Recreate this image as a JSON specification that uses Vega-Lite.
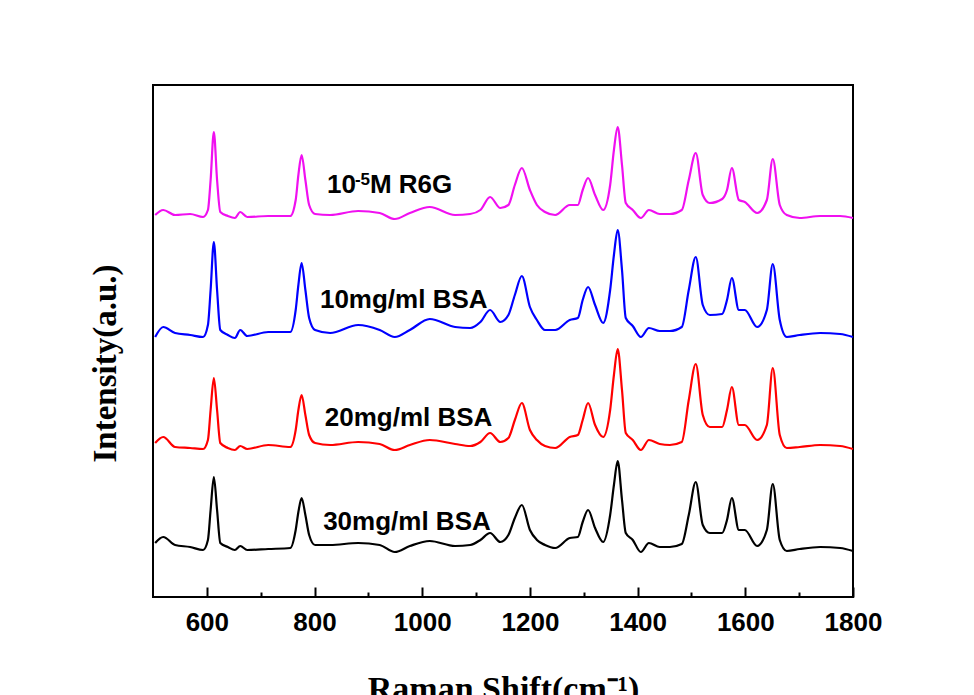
{
"$schema": "https://vega.github.io/schema/vega-lite/v6.json",
"width": 700, "height": 512,
"autosize": {"type": "none"},
"padding": {"left": 153, "top": 85, "right": 121, "bottom": 98},
"background": "white",
"config": {"view": {"stroke": "black", "strokeWidth": 2}},
"datasets": {
"m": [{"x":504,"y":382},{"x":519,"y":387},{"x":541,"y":382},{"x":569,"y":383},{"x":593,"y":380},{"x":602,"y":387},{"x":607,"y":417},{"x":613,"y":465},{"x":619,"y":417},{"x":625,"y":385},{"x":639,"y":381},{"x":652,"y":379},{"x":662,"y":385},{"x":675,"y":380},{"x":714,"y":381},{"x":755,"y":381},{"x":765,"y":397},{"x":770,"y":422},{"x":776,"y":442},{"x":783,"y":417},{"x":790,"y":392},{"x":801,"y":383},{"x":829,"y":382},{"x":881,"y":386},{"x":921,"y":384},{"x":949,"y":378},{"x":977,"y":384},{"x":1014,"y":390},{"x":1061,"y":382},{"x":1089,"y":383},{"x":1108,"y":387},{"x":1126,"y":400},{"x":1145,"y":389},{"x":1160,"y":392},{"x":1172,"y":412},{"x":1185,"y":429},{"x":1200,"y":407},{"x":1213,"y":392},{"x":1228,"y":385},{"x":1247,"y":382},{"x":1274,"y":392},{"x":1289,"y":392},{"x":1298,"y":407},{"x":1308,"y":419},{"x":1321,"y":402},{"x":1336,"y":387},{"x":1349,"y":412},{"x":1356,"y":447},{"x":1363,"y":470},{"x":1371,"y":432},{"x":1378,"y":394},{"x":1391,"y":387},{"x":1406,"y":379},{"x":1421,"y":387},{"x":1441,"y":383},{"x":1460,"y":383},{"x":1482,"y":387},{"x":1495,"y":417},{"x":1508,"y":444},{"x":1521,"y":402},{"x":1534,"y":394},{"x":1557,"y":398},{"x":1566,"y":407},{"x":1575,"y":429},{"x":1588,"y":397},{"x":1599,"y":395},{"x":1622,"y":384},{"x":1640,"y":397},{"x":1651,"y":438},{"x":1664,"y":392},{"x":1677,"y":382},{"x":1701,"y":379},{"x":1739,"y":381},{"x":1776,"y":381},{"x":1800,"y":379}],
"b": [{"x":504,"y":260},{"x":519,"y":270},{"x":541,"y":264},{"x":569,"y":262},{"x":593,"y":260},{"x":602,"y":272},{"x":607,"y":307},{"x":613,"y":355},{"x":619,"y":307},{"x":625,"y":267},{"x":639,"y":262},{"x":652,"y":259},{"x":662,"y":267},{"x":675,"y":261},{"x":714,"y":265},{"x":755,"y":265},{"x":765,"y":287},{"x":770,"y":312},{"x":776,"y":334},{"x":783,"y":307},{"x":790,"y":279},{"x":801,"y":267},{"x":829,"y":264},{"x":881,"y":272},{"x":921,"y":267},{"x":949,"y":260},{"x":977,"y":267},{"x":1014,"y":278},{"x":1061,"y":270},{"x":1089,"y":269},{"x":1108,"y":275},{"x":1126,"y":287},{"x":1145,"y":275},{"x":1160,"y":282},{"x":1172,"y":302},{"x":1185,"y":321},{"x":1200,"y":290},{"x":1213,"y":277},{"x":1228,"y":267},{"x":1247,"y":267},{"x":1274,"y":277},{"x":1289,"y":279},{"x":1298,"y":297},{"x":1308,"y":310},{"x":1321,"y":292},{"x":1336,"y":274},{"x":1349,"y":307},{"x":1356,"y":342},{"x":1363,"y":367},{"x":1371,"y":327},{"x":1378,"y":279},{"x":1391,"y":271},{"x":1406,"y":260},{"x":1421,"y":269},{"x":1441,"y":266},{"x":1460,"y":266},{"x":1482,"y":270},{"x":1495,"y":307},{"x":1508,"y":340},{"x":1521,"y":292},{"x":1534,"y":282},{"x":1557,"y":283},{"x":1566,"y":297},{"x":1575,"y":319},{"x":1588,"y":287},{"x":1599,"y":287},{"x":1622,"y":270},{"x":1640,"y":287},{"x":1651,"y":333},{"x":1664,"y":277},{"x":1677,"y":260},{"x":1701,"y":262},{"x":1739,"y":264},{"x":1776,"y":263},{"x":1800,"y":260}],
"r": [{"x":504,"y":154},{"x":519,"y":160},{"x":541,"y":150},{"x":569,"y":149},{"x":593,"y":148},{"x":602,"y":157},{"x":607,"y":187},{"x":613,"y":219},{"x":619,"y":187},{"x":625,"y":154},{"x":639,"y":149},{"x":652,"y":147},{"x":662,"y":151},{"x":675,"y":148},{"x":714,"y":152},{"x":755,"y":150},{"x":765,"y":167},{"x":770,"y":187},{"x":776,"y":202},{"x":783,"y":182},{"x":790,"y":162},{"x":801,"y":154},{"x":829,"y":152},{"x":881,"y":155},{"x":921,"y":153},{"x":949,"y":147},{"x":977,"y":152},{"x":1014,"y":157},{"x":1061,"y":153},{"x":1089,"y":151},{"x":1108,"y":155},{"x":1126,"y":164},{"x":1145,"y":155},{"x":1160,"y":159},{"x":1172,"y":177},{"x":1185,"y":194},{"x":1200,"y":167},{"x":1213,"y":157},{"x":1228,"y":151},{"x":1247,"y":149},{"x":1274,"y":160},{"x":1289,"y":162},{"x":1298,"y":177},{"x":1308,"y":194},{"x":1321,"y":172},{"x":1336,"y":160},{"x":1349,"y":187},{"x":1356,"y":222},{"x":1363,"y":248},{"x":1371,"y":207},{"x":1378,"y":164},{"x":1391,"y":157},{"x":1406,"y":147},{"x":1421,"y":157},{"x":1441,"y":153},{"x":1460,"y":152},{"x":1482,"y":155},{"x":1495,"y":197},{"x":1508,"y":233},{"x":1521,"y":182},{"x":1534,"y":170},{"x":1557,"y":170},{"x":1566,"y":187},{"x":1575,"y":210},{"x":1588,"y":172},{"x":1599,"y":172},{"x":1622,"y":157},{"x":1640,"y":172},{"x":1651,"y":229},{"x":1664,"y":162},{"x":1677,"y":149},{"x":1701,"y":150},{"x":1739,"y":152},{"x":1776,"y":151},{"x":1800,"y":148}],
"k": [{"x":504,"y":54},{"x":519,"y":60},{"x":541,"y":52},{"x":569,"y":50},{"x":593,"y":47},{"x":602,"y":57},{"x":607,"y":87},{"x":613,"y":120},{"x":619,"y":87},{"x":625,"y":54},{"x":639,"y":50},{"x":652,"y":47},{"x":662,"y":51},{"x":675,"y":47},{"x":714,"y":48},{"x":755,"y":49},{"x":765,"y":67},{"x":770,"y":85},{"x":776,"y":99},{"x":783,"y":82},{"x":790,"y":62},{"x":801,"y":52},{"x":829,"y":52},{"x":881,"y":54},{"x":921,"y":52},{"x":949,"y":45},{"x":977,"y":51},{"x":1014,"y":56},{"x":1061,"y":51},{"x":1089,"y":52},{"x":1108,"y":57},{"x":1126,"y":64},{"x":1145,"y":55},{"x":1160,"y":62},{"x":1172,"y":79},{"x":1185,"y":92},{"x":1200,"y":67},{"x":1213,"y":57},{"x":1228,"y":52},{"x":1247,"y":49},{"x":1274,"y":59},{"x":1289,"y":60},{"x":1298,"y":75},{"x":1308,"y":87},{"x":1321,"y":69},{"x":1336,"y":55},{"x":1349,"y":82},{"x":1356,"y":112},{"x":1363,"y":136},{"x":1371,"y":97},{"x":1378,"y":64},{"x":1391,"y":57},{"x":1406,"y":45},{"x":1421,"y":54},{"x":1441,"y":50},{"x":1460,"y":50},{"x":1482,"y":53},{"x":1495,"y":82},{"x":1508,"y":115},{"x":1521,"y":72},{"x":1534,"y":64},{"x":1557,"y":64},{"x":1566,"y":77},{"x":1575,"y":99},{"x":1588,"y":67},{"x":1599,"y":67},{"x":1622,"y":51},{"x":1640,"y":67},{"x":1651,"y":113},{"x":1664,"y":57},{"x":1677,"y":46},{"x":1701,"y":48},{"x":1739,"y":50},{"x":1776,"y":49},{"x":1800,"y":46}],
"labels": [{"x":810,"y":289,"t":"10mg/ml BSA"},{"x":819,"y":171,"t":"20mg/ml BSA"},{"x":816,"y":67,"t":"30mg/ml BSA"}],
"r6g": [{"x":823,"y":404,"a":"10","e":"-5","c":"M R6G"}]
},
"encoding": {
  "x": {"field": "x", "type": "quantitative",
    "scale": {"domain": [500, 1800], "nice": false, "zero": false},
    "axis": {"values": [600,700,800,900,1000,1100,1200,1300,1400,1500,1600,1700,1800],
      "labelExpr": "datum.value % 200 == 0 ? datum.label : ''",
      "format": "d",
      "tickSize": {"condition": {"test": "datum.value % 200 == 0", "value": -10}, "value": -5},
      "tickWidth": 2, "tickColor": "black",
      "domain": false, "grid": false,
      "labelFlush": false, "labelOverlap": false,
      "labelFont": "Liberation Sans", "labelFontSize": 26, "labelFontWeight": "bold", "labelColor": "black",
      "labelPadding": 22,
      "title": "Raman Shift(cm⁻¹)", "titleFont": "Liberation Serif", "titleFontSize": 34, "titleFontWeight": "bold", "titleColor": "black",
      "titlePadding": 32}},
  "y": {"field": "y", "type": "quantitative",
    "scale": {"domain": [0, 512], "nice": false, "zero": false},
    "axis": {"labels": false, "ticks": false, "domain": false, "grid": false,
      "title": "Intensity(a.u.)", "titleFont": "Liberation Serif", "titleFontSize": 33, "titleFontWeight": "bold", "titleColor": "black",
      "titlePadding": 31, "titleY": 278}}
},
"layer": [
  {"data": {"name": "m"}, "mark": {"type": "line", "color": "#F010F0", "strokeWidth": 2.2, "interpolate": "monotone"}},
  {"data": {"name": "b"}, "mark": {"type": "line", "color": "#0000FF", "strokeWidth": 2.2, "interpolate": "monotone"}},
  {"data": {"name": "r"}, "mark": {"type": "line", "color": "#FF0000", "strokeWidth": 2.2, "interpolate": "monotone"}},
  {"data": {"name": "k"}, "mark": {"type": "line", "color": "#000000", "strokeWidth": 2.2, "interpolate": "monotone"}},
  {"data": {"name": "labels"}, "mark": {"type": "text", "font": "Liberation Sans", "fontSize": 26, "fontWeight": "bold", "align": "left", "baseline": "alphabetic", "color": "black"},
   "encoding": {"text": {"field": "t"}}},
  {"data": {"name": "r6g"}, "mark": {"type": "text", "font": "Liberation Sans", "fontSize": 26, "fontWeight": "bold", "align": "left", "baseline": "alphabetic", "color": "black"},
   "encoding": {"text": {"field": "a"}}},
  {"data": {"name": "r6g"}, "mark": {"type": "text", "font": "Liberation Sans", "fontSize": 17, "fontWeight": "bold", "align": "left", "baseline": "alphabetic", "color": "black", "dx": 28, "dy": -8},
   "encoding": {"text": {"field": "e"}}},
  {"data": {"name": "r6g"}, "mark": {"type": "text", "font": "Liberation Sans", "fontSize": 26, "fontWeight": "bold", "align": "left", "baseline": "alphabetic", "color": "black", "dx": 43},
   "encoding": {"text": {"field": "c"}}}
]
}
